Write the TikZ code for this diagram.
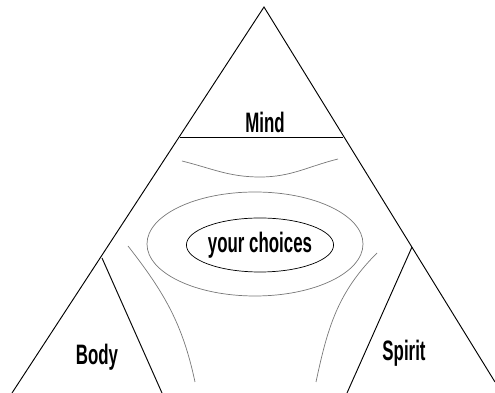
\documentclass[tikz,border=0pt]{standalone}
\usepackage{fontspec}
\newfontfamily\lblfont{Liberation Sans}[FakeStretch=0.6]
\usetikzlibrary{shapes.geometric}
\definecolor{mygray}{RGB}{120,120,120}
\tikzset{
  lbl/.style={font=\lblfont\bfseries\fontsize{24}{26}\selectfont, inner sep=0pt},
  side/.style={line width=0.8pt},
  soft/.style={line width=0.6pt, color=mygray}
}

\begin{document}
\begin{tikzpicture}[x=0.03cm,y=0.03cm]
\useasboundingbox (0,0) rectangle (495,393);

\coordinate (apex) at (264,386);
\coordinate (bl) at (12,0);
\coordinate (br) at (495,11);
\coordinate (ml) at (180,256);
\coordinate (mr) at (343,256);
\coordinate (bv) at (102,135);
\coordinate (bb) at (162,0);
\coordinate (sv) at (412,146);
\coordinate (sb) at (347,0);

\draw[side] (bl) -- (apex) -- (br);
\draw[side] (ml) -- (mr);
\draw[side] (bv) -- (bb);
\draw[side] (sv) -- (sb);

\node[lbl] (mind) at (265,271) {Mind};
\node[lbl] (body) at (97,36) {Body};
\node[lbl] (spirit) at (404,40) {Spirit};

\draw[soft] (255,149) ellipse (3.24cm and 1.56cm);
\node[lbl, draw=black, line width=0.6pt, ellipse, minimum width=4.02cm, minimum height=1.62cm] (choices) at (260,148) {your choices};

\draw[soft] (182,232) to[out=-14,in=180] (260,216) to[out=0,in=-166] (338,234);
\draw[soft] (128,147) to[out=-52,in=102] (195,11);
\draw[soft] (377,140) to[out=-135,in=78] (316,11);

\end{tikzpicture}
\end{document}
